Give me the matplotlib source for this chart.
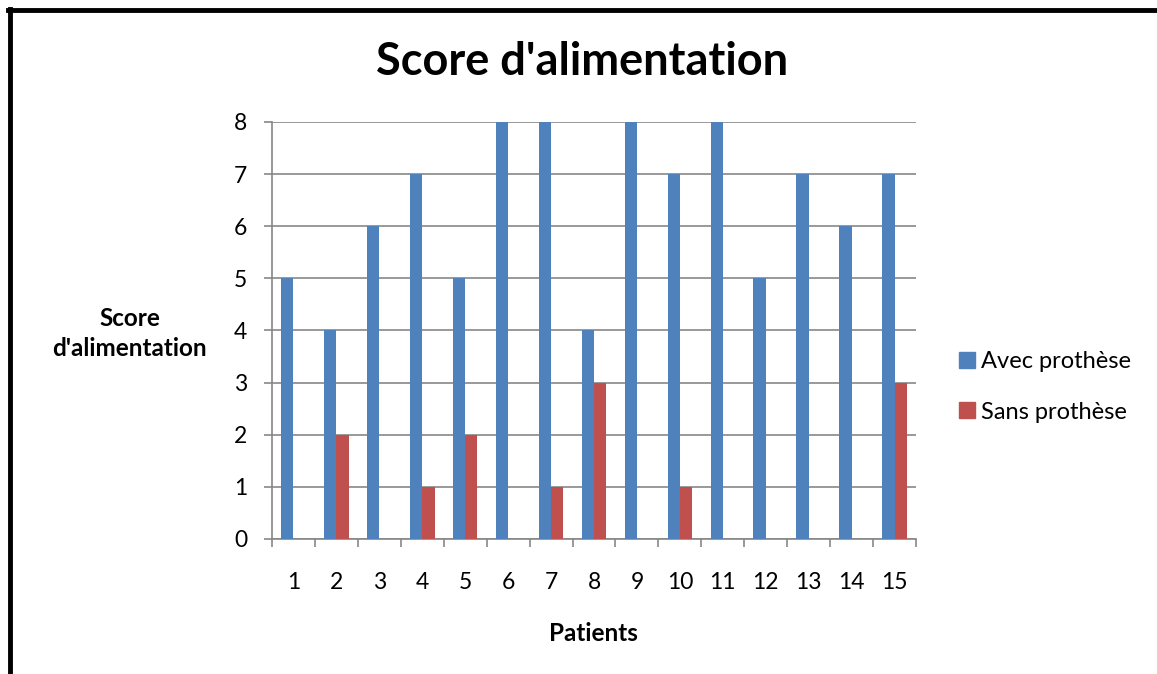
import numpy as np
import matplotlib
matplotlib.use('Agg')
import matplotlib.pyplot as plt
from matplotlib.lines import Line2D

plt.rcParams['font.family'] = ['Lato', 'DejaVu Sans']

patients = [str(i) for i in range(1, 16)]
avec = [5, 4, 6, 7, 5, 8, 8, 4, 8, 7, 8, 5, 7, 6, 7]
sans = [0, 2, 0, 1, 2, 0, 1, 3, 0, 1, 0, 0, 0, 0, 3]
yticks = [0, 1, 2, 3, 4, 5, 6, 7, 8]

blue = '#4F81BD'
red = '#C0504D'
grey = '#878787'

fig = plt.figure(figsize=(11.57, 6.74), dpi=100)
ax = fig.add_axes([0.2351, 0.2003, 0.5566, 0.6187])

x = np.arange(1, len(patients) + 1)
w = 1 / 3.5
ax.bar(x - w / 2, avec, width=w, color=blue, label='Avec prothèse', zorder=3)
ax.bar(x + w / 2, sans, width=w, color=red, label='Sans prothèse', zorder=3)

ax.set_xlim(0.5, 15.5)
ax.set_ylim(0, 8)
ax.set_yticks(yticks)
ax.set_yticklabels([str(v) for v in yticks], fontsize=16.5)
ax.yaxis.grid(True, color=grey, lw=1.2, zorder=0)

# category labels, tick marks between categories
ax.set_xticks(np.arange(0.5, 16, 1))
ax.set_xticklabels([])
ax.set_xticks(x, minor=True)
ax.set_xticklabels(patients, minor=True, fontsize=16.5)
ax.tick_params(axis='x', which='major', direction='out', length=6, width=1.2, color=grey)
ax.tick_params(axis='x', which='minor', length=0, pad=24)
ax.tick_params(axis='y', direction='out', length=6, width=1.2, color=grey, pad=12)

for s in ['top', 'right']:
    ax.spines[s].set_visible(False)
for s in ['left', 'bottom']:
    ax.spines[s].set_color(grey)
    ax.spines[s].set_linewidth(1.2)

fig.text(0.503, 0.908, "Score d'alimentation", ha='center', va='center',
         fontsize=32.5, fontweight='bold')
fig.text(0.112, 0.505, "Score\nd'alimentation", ha='center', va='center',
         fontsize=17.5, fontweight='bold', linespacing=1.35)
fig.text(0.513, 0.06, 'Patients', ha='center', va='center',
         fontsize=17.5, fontweight='bold')

handles = [Line2D([], [], marker='s', ls='', color=blue, markersize=11),
           Line2D([], [], marker='s', ls='', color=red, markersize=11)]
fig.legend(handles, ['Avec prothèse', 'Sans prothèse'], loc='center left',
           bbox_to_anchor=(0.811, 0.426), frameon=False, fontsize=17,
           handlelength=0.6, handletextpad=0.3, labelspacing=1.25)

# frame lines at left and top
fig.add_artist(Line2D([0.0087, 0.0087], [0, 0.9866], color='black', lw=3.5,
                      transform=fig.transFigure))
fig.add_artist(Line2D([0.0072, 1.0], [0.9845, 0.9845], color='black', lw=3.5,
                      transform=fig.transFigure))

fig.savefig('out.png', dpi=100)
